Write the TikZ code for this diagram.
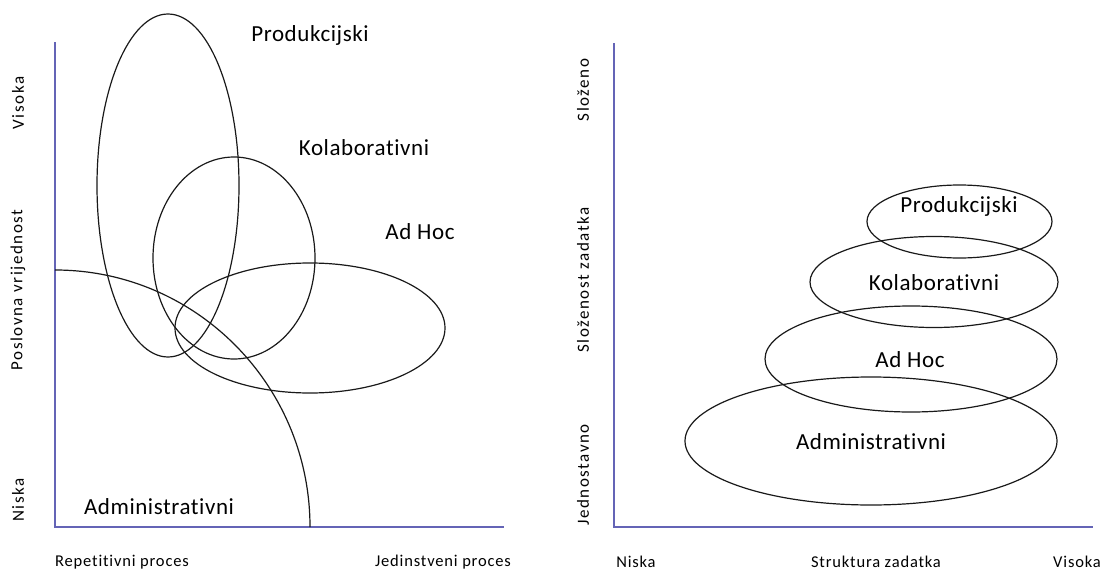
\documentclass[tikz,border=0pt]{standalone}
\usepackage{fontspec}
\setmainfont{Carlito}[Ligatures={NoCommon}]
\definecolor{axiscol}{RGB}{100,100,182}
\definecolor{linecol}{RGB}{25,25,25}
\begin{document}
\begin{tikzpicture}[x=1pt,y=-1pt,
  axisline/.style={draw=axiscol,line width=1.4pt},
  curve/.style={draw=linecol,line width=1.2pt},
  biglabel/.style={inner sep=0pt,font=\fontsize{23}{26}\selectfont\addfontfeature{LetterSpace=2.5}},
  smalllabel/.style={inner sep=0pt,font=\fontsize{16.5}{19}\selectfont\addfontfeature{LetterSpace=5}},
  rotlabel/.style={inner sep=0pt,rotate=90,font=\fontsize{17}{20}\selectfont\addfontfeature{LetterSpace=9}}]
\useasboundingbox (0,0) rectangle (1104,570);
% ---------- left diagram ----------
\coordinate (L0) at (55,527);
\coordinate (Ltop) at (55,42);
\coordinate (Lright) at (504,527);
\draw[axisline] (Ltop) -- (L0) -- (Lright);
\draw[curve] (168,185.5) ellipse[x radius=71, y radius=171.5];
\draw[curve] (234,258) ellipse[x radius=81, y radius=101];
\draw[curve] (310,328) ellipse[x radius=135, y radius=65];
\draw[curve] (55,270) arc[start angle=-90, end angle=0, x radius=255, y radius=257];
\node[biglabel] (lprod) at (310,35) {Produkcijski};
\node[biglabel] (lkol) at (364,148) {Kolaborativni};
\node[biglabel] (ladh) at (420,232) {Ad Hoc};
\node[biglabel] (ladm) at (159,507) {Administrativni};
\node[smalllabel] (lrep) at (122,562) {Repetitivni proces};
\node[smalllabel] (ljed) at (443,562) {Jedinstveni proces};
\node[rotlabel] (lvis) at (18,103) {Visoka};
\node[rotlabel] (lpos) at (18,290) {Poslovna vrijednost};
\node[rotlabel] (lnis) at (18,500) {Niska};
% ---------- right diagram ----------
\coordinate (R0) at (614,527);
\coordinate (Rtop) at (614,43);
\coordinate (Rright) at (1093,527);
\draw[axisline] (Rtop) -- (R0) -- (Rright);
\draw[curve] (959.5,221.5) ellipse[x radius=92.5, y radius=36.5];
\draw[curve] (934,282) ellipse[x radius=124, y radius=45.5];
\draw[curve] (911,359) ellipse[x radius=146, y radius=53];
\draw[curve] (871,441) ellipse[x radius=186, y radius=64];
\node[biglabel] (rprod) at (959,206) {Produkcijski};
\node[biglabel] (rkol) at (934,283) {Kolaborativni};
\node[biglabel] (radh) at (910,360) {Ad Hoc};
\node[biglabel] (radm) at (871,442) {Administrativni};
\node[smalllabel] (rnis) at (636,562) {Niska};
\node[smalllabel] (rstr) at (876,562) {Struktura zadatka};
\node[smalllabel] (rvis) at (1077,562) {Visoka};
\node[rotlabel] (rslo) at (583,90) {Složeno};
\node[rotlabel] (rslz) at (583,280) {Složenost zadatka};
\node[rotlabel] (rjed) at (583,475) {Jednostavno};
\end{tikzpicture}
\end{document}
